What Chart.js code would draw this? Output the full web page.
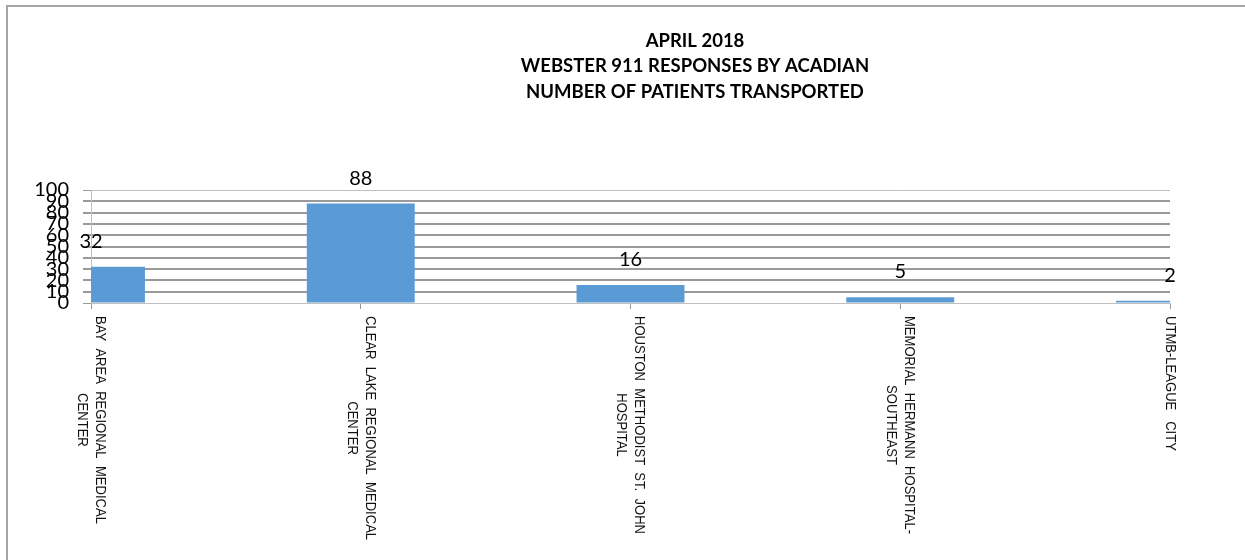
<!DOCTYPE html>
<html>
<head>
<meta charset="utf-8">
<script src="https://cdn.jsdelivr.net/npm/chart.js@4/dist/chart.umd.min.js"></script>
<style>
html, body { margin: 0; padding: 0; background: #fff; }
#wrap { position: relative; width: 1245px; height: 560px; overflow: hidden; }
#frame { position: absolute; left: 6px; top: 5px; width: 1240px; height: 600px; border-top: 2px solid #a6a6a6; border-left: 2px solid #a6a6a6; }
canvas { position: absolute; left: 0; top: 0; }
</style>
</head>
<body>
<div id="wrap">
  <div id="frame"></div>
  <canvas id="chart" width="1245" height="560"></canvas>
</div>
<script>
const titleLines = ['APRIL 2018', 'WEBSTER 911 RESPONSES BY ACADIAN', 'NUMBER OF PATIENTS TRANSPORTED'];
const hospitals = [
    ['BAY  AREA  REGIONAL  MEDICAL', 'CENTER'],
    ['CLEAR  LAKE  REGIONAL  MEDICAL', 'CENTER'],
    ['HOUSTON  METHODIST  ST.  JOHN', 'HOSPITAL'],
    ['MEMORIAL  HERMANN  HOSPITAL-', 'SOUTHEAST'],
    ['UTMB-LEAGUE   CITY']
];
const patients = [32, 88, 16, 5, 2];
const yMin = 0;
const yMax = 100;
const yStep = 10;

// title, value labels and the clockwise category labels
const drawExtras = {
    id: 'drawExtras',
    afterDraw(chart) {
        const ctx = chart.ctx;
        const xScale = chart.scales.x;
        const area = chart.chartArea;
        ctx.save();
        ctx.fillStyle = '#000';
        ctx.textAlign = 'center';
        ctx.textBaseline = 'middle';

        ctx.font = 'bold 18.5px Lato';
        titleLines.forEach((t, i) => ctx.fillText(t, 695, 41 + i * 25.5));

        ctx.font = '20px Lato';
        chart.getDatasetMeta(0).data.forEach((bar, i) => {
            ctx.fillText(String(patients[i]), bar.x, bar.y - 25.5);
        });

        // labels are a bit narrow in the original, so squeeze along the text
        const squeeze = 0.87;
        ctx.font = '15px "Liberation Sans"';
        ctx.fillStyle = '#111';
        chart.data.labels.forEach((lines, i) => {
            const px = xScale.getPixelForTick(i);
            const maxW = Math.max(...lines.map(l => ctx.measureText(l).width)) * squeeze;
            ctx.save();
            ctx.translate(px, area.bottom + 13 + maxW / 2);
            ctx.rotate(Math.PI / 2);
            ctx.scale(squeeze, 1);
            lines.forEach((l, j) => ctx.fillText(l, 0, (j - (lines.length - 1) / 2) * 18));
            ctx.restore();
        });
        ctx.restore();
    }
};

const ctx = document.getElementById('chart').getContext('2d');
new Chart(ctx, {
    type: 'bar',
    data: {
        labels: hospitals,
        datasets: [{
            data: patients,
            backgroundColor: '#5B9BD5',
            barPercentage: 0.4,
            categoryPercentage: 1,
            clip: 0
        }]
    },
    options: {
        responsive: false,
        animation: false,
        layout: { padding: { left: 31, right: 75, top: 190, bottom: 251 } },
        plugins: {
            legend: { display: false },
            tooltip: { enabled: false },
            title: { display: false }
        },
        scales: {
            x: {
                offset: false,
                grid: { offset: false, drawOnChartArea: false, color: '#999', tickLength: 6 },
                border: { color: '#c0c0c0' },
                ticks: { display: false }
            },
            y: {
                min: yMin,
                max: yMax,
                afterFit(scale) { scale.width = 60; },
                ticks: {
                    stepSize: yStep,
                    autoSkip: false,
                    padding: 14,
                    color: '#000',
                    font: { family: 'Lato', size: 20 }
                },
                grid: {
                    color: c => (c.tick && (c.tick.value === yMin || c.tick.value === yMax)) ? '#c0c0c0' : '#9a9a9a',
                    lineWidth: c => (c.tick && (c.tick.value === yMin || c.tick.value === yMax)) ? 1 : 2,
                    tickColor: '#9a9a9a',
                    tickLength: 8
                },
                border: { color: '#c0c0c0' }
            }
        }
    },
    plugins: [drawExtras]
});
</script>
</body>
</html>
